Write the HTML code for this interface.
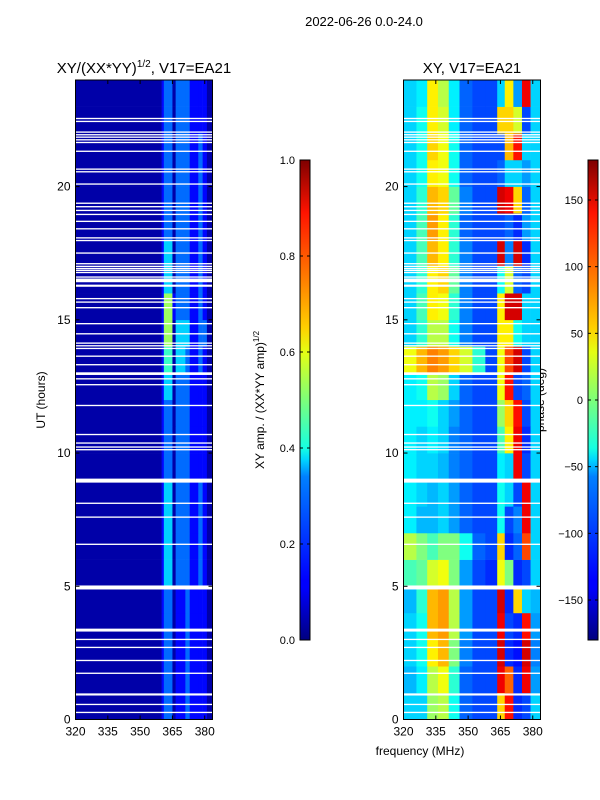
<!DOCTYPE html>
<html><head><meta charset="utf-8">
<style>
html,body{margin:0;padding:0;background:#fff;}
svg{display:block;font-family:"Liberation Sans",sans-serif;}
</style></head>
<body>
<svg id="fig" width="600" height="800" viewBox="0 0 600 800" xmlns="http://www.w3.org/2000/svg">
<defs>
<linearGradient id="jet" x1="0" y1="1" x2="0" y2="0">
<stop offset="0" stop-color="#00007f"/><stop offset="0.11" stop-color="#0000ff"/><stop offset="0.125" stop-color="#0000ff"/>
<stop offset="0.34" stop-color="#0080ff"/><stop offset="0.375" stop-color="#00d4ff"/><stop offset="0.4" stop-color="#16ffe1"/>
<stop offset="0.5" stop-color="#7dff7a"/><stop offset="0.6" stop-color="#e4ff13"/><stop offset="0.65" stop-color="#ffd000"/>
<stop offset="0.75" stop-color="#ff7f00"/><stop offset="0.89" stop-color="#ff1300"/><stop offset="1" stop-color="#7f0000"/>
</linearGradient>
</defs>
<text x="364" y="26" font-size="13" text-anchor="middle">2022-06-26 0.0-24.0</text>
<text x="144" y="73" font-size="15" text-anchor="middle">XY/(XX*YY)<tspan font-size="10" dy="-6">1/2</tspan><tspan dy="6">, V17=EA21</tspan></text>
<text x="472" y="73" font-size="15" text-anchor="middle">XY, V17=EA21</text>
<text x="420" y="755" font-size="12" text-anchor="middle">frequency (MHz)</text>
<text transform="translate(45,400) rotate(-90)" font-size="12" text-anchor="middle">UT (hours)</text>
<text transform="translate(264,400) rotate(-90)" font-size="12" text-anchor="middle">XY amp. / (XX*YY amp)<tspan font-size="8" dy="-5">1/2</tspan></text>
<text transform="translate(544,400) rotate(-90)" font-size="12" text-anchor="middle">phase (deg)</text>
<g id="left"></g><g id="right"></g><g id="cb1"></g><g id="cb2"></g>
</svg>
<script>
// ---- data ----
const ampFreqEdges = [320,360,361,365,366.5,371,373,377,379,381,383.6];
// rows hour 0..23, digits = amplitude*10 (0 means ~0.03)
const ampRows = ["0120121110","0120121110","0120121110","0120121110","0120121110",
"0130221210","0130221210","0130221210","0130221210","0120221110","0120221110","0120221110",
"0130221110","0140321210","0150331220","0151221210","0130221210","0130221210","0120221210",
"0120221210","0120221210","0120221210","0120221110","0120221110"];
const phaseFreqEdges = [320,326,331,336,341,346,352,358,363.5,367,371,375,379,383.6];
const phaseRows = [
[-60,-60,10,20,-40,-100,-110,-110,60,130,-120,-110,-60],
[-70,-50,20,40,-30,-100,-110,-110,140,100,-120,140,-80],
[-60,-40,50,70,0,-90,-110,-110,150,-120,-130,150,-90],
[-60,-40,70,80,20,-80,-110,-110,140,-110,-120,130,-80],
[-70,-30,70,80,20,-80,-110,-110,150,-120,60,-60,-70],
[-20,-10,30,40,0,-80,-110,-120,40,0,-120,-110,-60],
[20,0,-20,0,0,-40,-100,-110,60,-120,-100,110,-60],
[-50,-70,-70,-60,-80,-100,-110,-110,-40,-110,-90,140,-60],
[-50,-60,-70,-60,-80,-100,-110,-110,-40,-60,-110,140,-60],
[-50,-60,-60,-70,-90,-100,-110,-110,-50,-60,140,-110,-60],
[-50,-60,-50,-60,-90,-100,-110,-110,-20,50,140,-120,-60],
[-50,-50,-40,-60,-80,-100,-110,-110,10,60,130,-110,-60],
[-50,-40,20,10,-60,-100,-110,-110,40,130,-110,-100,-60],
[40,70,90,80,60,30,-30,-110,40,110,150,-110,-60],
[-60,-30,20,20,-40,-90,-110,-110,50,50,-40,-60,-60],
[-60,-20,50,40,-30,-90,-110,-110,50,150,150,-60,-60],
[-60,-30,50,60,-10,-90,-110,-110,-40,30,-100,-110,-60],
[-60,-20,70,50,-30,-90,-110,-110,150,-90,150,-120,-60],
[-60,-20,80,50,-30,-100,-110,-110,-110,-100,-120,-80,-60],
[-60,-30,70,60,-10,-90,-110,-110,150,140,60,-100,-60],
[-60,-40,50,40,-40,-100,-110,-110,-100,-60,-60,-80,-60],
[-60,-40,60,40,-40,-100,-110,-110,-110,70,130,-60,-60],
[-60,-40,50,30,-50,-100,-110,-110,60,60,30,-110,-60],
[-60,-50,50,20,-50,-100,-110,-110,-60,50,-80,140,-60]];
// flagged (white) time ranges [startHour, endHour]
const flagged = [[22.53,22.58],[22.42,22.47],[22.02,22.07],[21.92,21.97],[21.83,21.88],[21.73,21.78],[21.63,21.68],[21.3,21.35],
[20.63,20.68],[20.53,20.58],[20.07,20.12],[19.35,19.4],[19.22,19.27],[19.08,19.13],[18.93,18.98],[18.67,18.72],[18.39,18.44],
[18.05,18.1],[17.95,18.0],[17.48,17.53],[17.08,17.13],[16.98,17.03],[16.9,16.95],[16.83,16.88],[16.75,16.8],[16.58,16.63],
[16.41,16.55],[16.24,16.32],[15.77,15.82],[15.64,15.69],[15.43,15.48],[14.83,14.88],[14.45,14.5],[14.1,14.15],[14.0,14.05],
[13.9,13.95],[13.61,13.66],[13.29,13.34],[12.93,13.03],[12.76,12.81],[12.54,12.59],[11.76,11.81],[10.67,10.72],[10.35,10.4],
[10.2,10.25],[10.1,10.15],[8.89,9.04],[8.09,8.14],[7.57,7.62],[6.55,6.6],[4.88,5.03],[3.3,3.41],[2.98,3.03],[2.68,2.73],
[2.19,2.24],[1.71,1.76],[0.9,0.98],[0.54,0.59],[0.24,0.29]];
const xTicks = [320,335,350,365,380];
const yTicks = [0,5,10,15,20];
const ampTicks = [0.0,0.2,0.4,0.6,0.8,1.0];
const phaseTicks = [-150,-100,-50,0,50,100,150];

// ---- helpers ----
const NS="http://www.w3.org/2000/svg";
function mk(tag,parent,attrs){const e=document.createElementNS(NS,tag);for(const k in attrs)e.setAttribute(k,attrs[k]);parent.appendChild(e);return e;}
function jet(v){v=Math.max(0,Math.min(1,v));
 const r=Math.max(0,Math.min(1,Math.min(4*v-1.5,-4*v+4.5)));
 const g=Math.max(0,Math.min(1,Math.min(4*v-0.5,-4*v+3.5)));
 const b=Math.max(0,Math.min(1,Math.min(4*v+0.5,-4*v+2.5)));
 return `rgb(${Math.round(r*255)},${Math.round(g*255)},${Math.round(b*255)})`;}
const Y0=719.5,YT=80,F0=320,F1=383.6;
function yS(h){return Y0-(h/24)*(Y0-YT);}
function panel(gid,x0,x1,edges,rows,norm,name){
 const g=document.getElementById(gid);
 const xS=f=>x0+(f-F0)/(F1-F0)*(x1-x0);
 rows.forEach((row,h)=>{
  for(let i=0;i<edges.length-1;i++){
   const r=mk('rect',g,{x:xS(edges[i]),y:yS(h+1),width:xS(edges[i+1])-xS(edges[i])+0.3,height:yS(h)-yS(h+1)+0.3,fill:jet(norm(row,i))});
   
   
  }});
 flagged.forEach(f=>{
  const r=mk('rect',g,{x:x0,y:yS(f[1]),width:x1-x0,height:Math.max(1.3,yS(f[0])-yS(f[1])),fill:'#fff'});
  
  
 });
 const fr=mk('rect',g,{x:x0,y:YT,width:x1-x0,height:Y0-YT,fill:'none',stroke:'#000','stroke-width':1});
 
 
 xTicks.forEach(t=>{const x=xS(t);
  mk('line',g,{x1:x,x2:x,y1:Y0,y2:Y0-4,stroke:'#000'});mk('line',g,{x1:x,x2:x,y1:YT,y2:YT+4,stroke:'#000'});
  const tx=mk('text',g,{x:x,y:Y0+16,'font-size':12,'text-anchor':'middle'});tx.textContent=t;
  
  });
 yTicks.forEach(t=>{const y=yS(t);
  mk('line',g,{x1:x0,x2:x0+4,y1:y,y2:y,stroke:'#000'});mk('line',g,{x1:x1,x2:x1-4,y1:y,y2:y,stroke:'#000'});
  const tx=mk('text',g,{x:x0-5,y:y+4,'font-size':12,'text-anchor':'end'});tx.textContent=t;
  
  });
}
panel('left',75.5,212.5,ampFreqEdges,ampRows,(row,i)=>{const d=+row[i];return d===0?0.04:d/10+0.03;},'amp');
panel('right',403.5,540.5,phaseFreqEdges,phaseRows,(row,i)=>(row[i]+180)/360,'phase');

function colorbar(gid,x,ticks,lo,hi,fmt,name){
 const g=document.getElementById(gid);const top=160,bot=640,w=10;
 const r=mk('rect',g,{x:x,y:top,width:w,height:bot-top,fill:'url(#jet)',stroke:'#000','stroke-width':1});
 
 
 ticks.forEach(t=>{const y=bot-(t-lo)/(hi-lo)*(bot-top);
  mk('line',g,{x1:x,x2:x+3,y1:y,y2:y,stroke:'#000'});mk('line',g,{x1:x+w,x2:x+w-3,y1:y,y2:y,stroke:'#000'});
  const tx=mk('text',g,{x:x-5,y:y+4,'font-size':11,'text-anchor':'end'});tx.textContent=fmt(t);
  
  });
}
colorbar('cb1',300,ampTicks,0,1,t=>t.toFixed(1),'amp-colorbar');
colorbar('cb2',588,phaseTicks,-180,180,t=>t<0?'\u2212'+(-t):String(t),'phase-colorbar');
</script>
</body></html>
